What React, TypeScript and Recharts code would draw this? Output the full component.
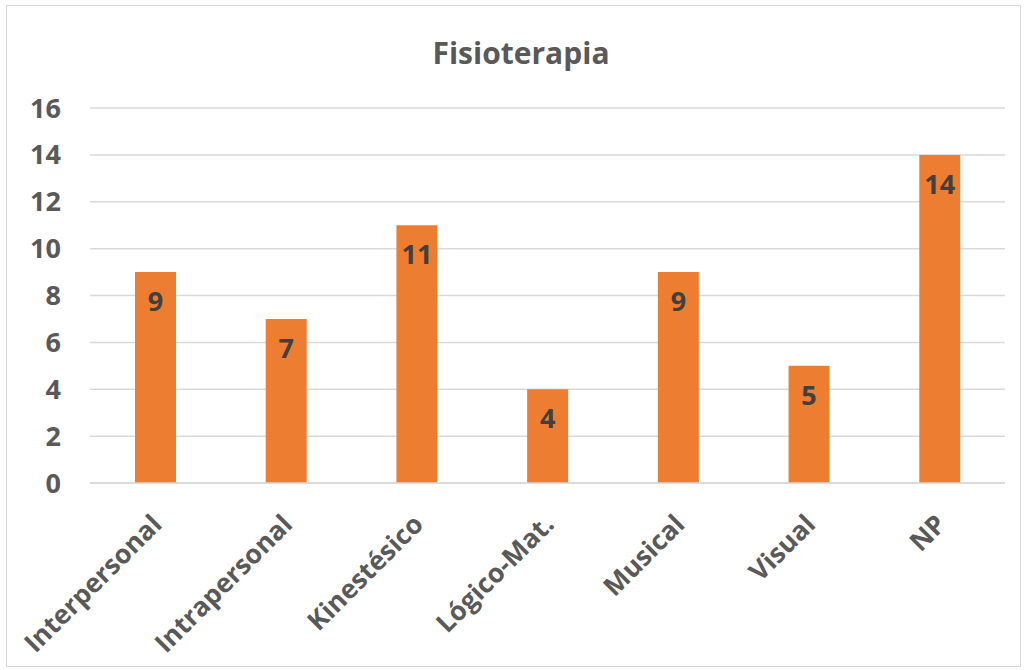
import { BarChart, Bar, XAxis, YAxis, CartesianGrid, LabelList } from 'recharts';

const categories = ['Interpersonal', 'Intrapersonal', 'Kinestésico', 'Lógico-Mat.', 'Musical', 'Visual', 'NP'];
const counts = [9, 7, 11, 4, 9, 5, 14];
const yTicks = [0, 2, 4, 6, 8, 10, 12, 14, 16];

const data = categories.map((name, i) => ({ name, value: counts[i] }));

const FONT = '"Open Sans", sans-serif';
const TEXT = '#595959';

const RotatedTick = (props: any) => {
  const { x, y, payload } = props;
  return (
    <g transform={`translate(${x + 8},${y + 43})`}>
      <text
        transform="rotate(-45)"
        textAnchor="end"
        fill={TEXT}
        fontFamily={FONT}
        fontWeight={700}
        fontSize={26.5}
      >
        {payload.value}
      </text>
    </g>
  );
};

export default function App() {
  return (
    <div
      style={{
        position: 'absolute',
        left: 6,
        top: 5,
        width: 1013,
        height: 660,
        border: '1px solid #d9d9d9',
        background: '#fff',
      }}
    >
      <div
        style={{
          position: 'absolute',
          top: 26,
          left: 0,
          width: 1028,
          textAlign: 'center',
          fontFamily: FONT,
          fontWeight: 700,
          fontSize: 30,
          color: TEXT,
        }}
      >
        Fisioterapia
      </div>
      <BarChart
        width={1013}
        height={660}
        data={data}
        margin={{ top: 102, right: 15, left: 0, bottom: 0 }}
      >
        <CartesianGrid vertical={false} stroke="#d9d9d9" strokeWidth={1.5} />
        <XAxis
          dataKey="name"
          height={183}
          interval={0}
          tickLine={false}
          tickSize={0}
          tickMargin={0}
          axisLine={{ stroke: '#d9d9d9', strokeWidth: 1.5 }}
          tick={<RotatedTick />}
        />
        <YAxis
          width={83}
          domain={[0, 16]}
          ticks={yTicks}
          interval={0}
          axisLine={false}
          tickLine={false}
          tickSize={0}
          tickMargin={29}
          tick={{ fill: TEXT, fontFamily: FONT, fontWeight: 700, fontSize: 27 }}
        />
        <Bar dataKey="value" fill="#ED7D31" barSize={41} isAnimationActive={false}>
          <LabelList
            dataKey="value"
            position="insideTop"
            offset={20}
            fill="#404040"
            fontFamily={FONT}
            fontWeight={700}
            fontSize={27}
          />
        </Bar>
      </BarChart>
    </div>
  );
}
